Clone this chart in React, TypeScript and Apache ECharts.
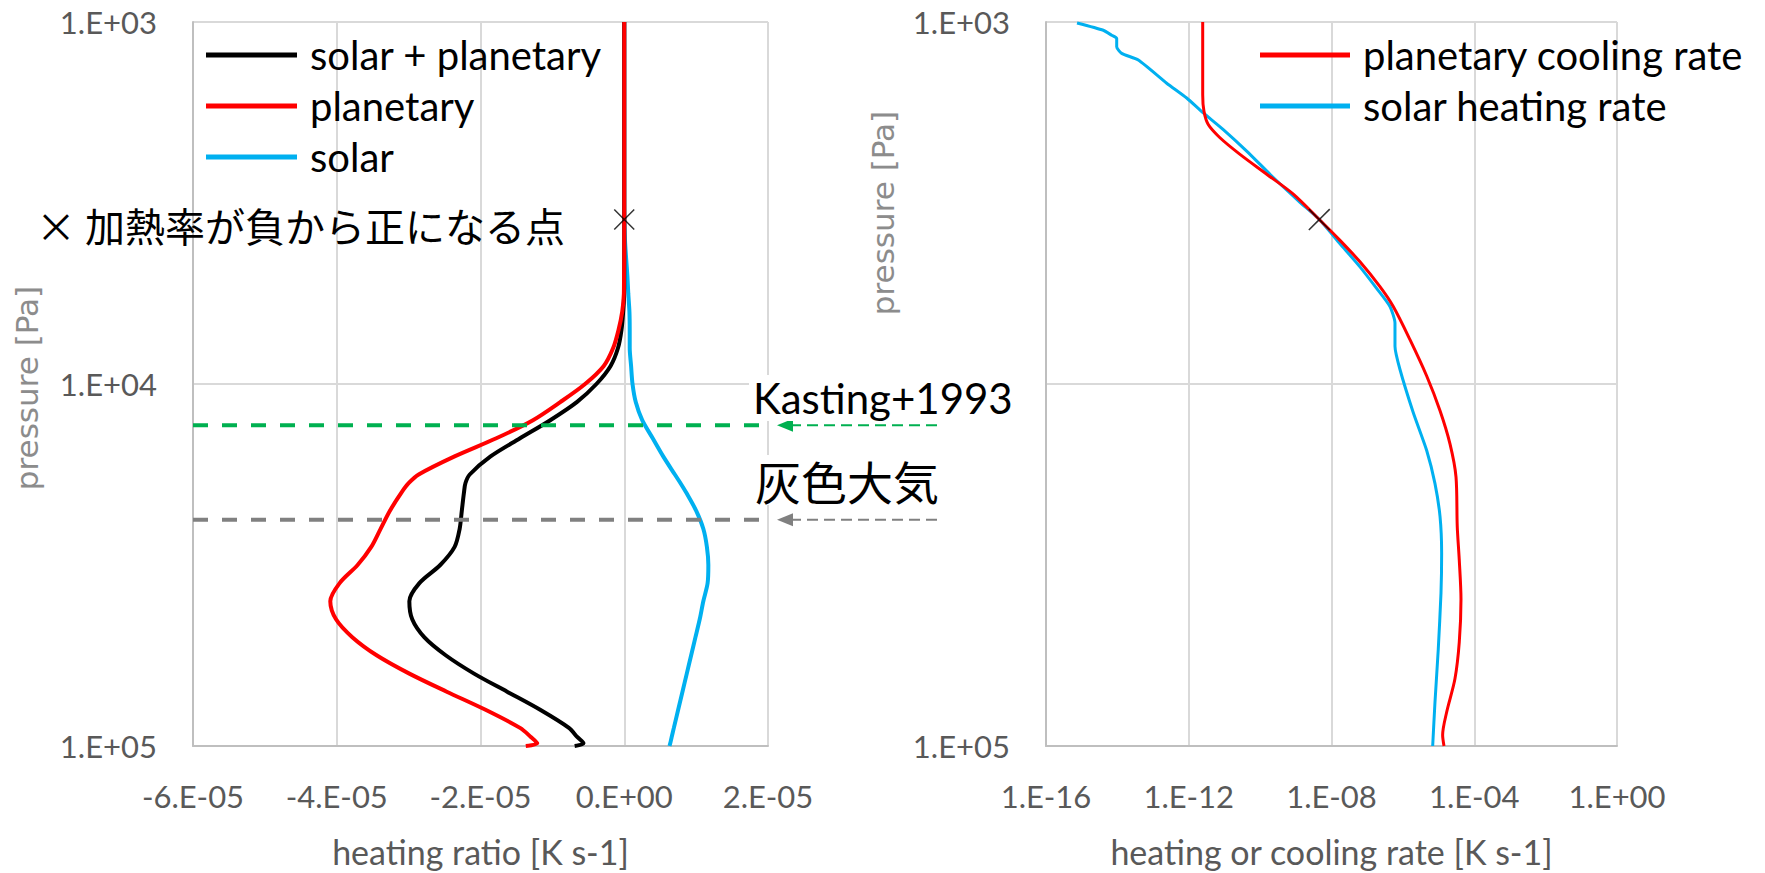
import { useEffect, useRef } from "react";
import * as echarts from "echarts";

// ---------- Left panel: heating ratio [K s-1] vs pressure [Pa] ----------
const pressureLeft = [
  1000, 3162, 3981, 4467, 5012, 5623, 6310, 7079, 7943, 8913, 10000, 11220, 12589,
  14125, 15849, 17783, 18800, 19953, 22387, 25119, 28184, 31623, 35481, 39811, 44668,
  50119, 56234, 63096, 70795, 79433, 89125, 94406, 98300, 100000,
];
const solarPlusPlanetary = [
  0, 0, 0, 0, 0, -1e-8, -1.5e-7, -3.8e-7, -8.6e-7, -1.9e-6, -3.87e-6, -6.6e-6, -1.03e-5,
  -1.45e-5, -1.86e-5, -2.15e-5, -2.21e-5, -2.23e-5, -2.26e-5, -2.29e-5, -2.36e-5, -2.56e-5, -2.85e-5, -2.99e-5, -2.95e-5,
  -2.78e-5, -2.48e-5, -2.09e-5, -1.63e-5, -1.17e-5, -7.7e-6, -6.55e-6, -5.67e-6, -6.9e-6,
];
const planetary = [
  0, 0, 0, 0, -3e-8, -5e-8, -2.8e-7, -7.9e-7, -1.53e-6, -2.85e-6, -5.45e-6, -8.9e-6, -1.27e-5,
  -1.78e-5, -2.36e-5, -2.86e-5, -3.0e-5, -3.1e-5, -3.26e-5, -3.39e-5, -3.52e-5, -3.71e-5, -3.96e-5, -4.09e-5, -4.01e-5,
  -3.78e-5, -3.44e-5, -2.99e-5, -2.47e-5, -1.93e-5, -1.45e-5, -1.3e-5, -1.21e-5, -1.37e-5,
];
const solar = [
  0, 0, 1e-7, 2.5e-7, 4.3e-7, 5.6e-7, 7.2e-7, 7.6e-7, 7.6e-7, 9.5e-7, 1.15e-6, 1.6e-6, 2.5e-6,
  3.96e-6, 5.42e-6, 7.04e-6, 7.83e-6, 8.62e-6, 1.0e-5, 1.1e-5, 1.15e-5, 1.17e-5, 1.16e-5, 1.1e-5, 1.05e-5,
  9.9e-6, 9.3e-6, 8.7e-6, 8.1e-6, 7.5e-6, 6.9e-6, 6.6e-6, 6.4e-6, 6.3e-6,
];
const xLeftTicks = { min: -6e-5, max: 2e-5, interval: 2e-5 };

// ---------- Right panel: heating or cooling rate [K s-1] vs pressure [Pa] ----------
const coolingPressure = [
  1000, 1589, 1765, 1920, 2088, 2321, 2633, 2988, 3513, 4011, 4598, 5384, 6109, 7544, 9506,
  11857, 14640, 18066, 24774, 30571, 39357, 51761, 65223, 80538, 93313, 100000,
];
const coolingRate = [
  2.46e-12, 2.46e-12, 2.67e-12, 3.52e-12, 7.5e-12, 2.73e-11, 1.53e-10, 8.5e-10, 4.55e-9, 1.73e-8, 6.28e-8,
  2.28e-7, 5.38e-7, 1.58e-6, 4.65e-6, 1.1e-5, 2.09e-5, 3.08e-5, 3.34e-5, 3.8e-5, 4.25e-5, 3.8e-5, 2.88e-5,
  1.69e-5, 1.3e-5, 1.42e-5,
];
const heatingPressure = [
  1006, 1054, 1088, 1110, 1171, 1221, 1274, 1476, 1622, 1783, 1982, 2273, 2689, 3148, 3513, 4097, 4746,
  5443, 6109, 6788, 7864, 9119, 11987, 15264, 18848, 23254, 29325, 37752, 53961, 75578, 100000,
];
const heatingRate = [
  7.4e-16, 4.04e-15, 6.93e-15, 9.57e-15, 9.57e-15, 1.32e-14, 3.86e-14, 2.41e-13, 8.75e-13, 2.55e-12,
  9.29e-12, 4.2e-11, 2.34e-10, 1.31e-9, 4.55e-9, 1.73e-8, 6.28e-8, 1.84e-7, 4.35e-7, 6.01e-7, 6.01e-7,
  8.3e-7, 1.95e-6, 4.65e-6, 7.94e-6, 1.1e-5, 1.22e-5, 1.17e-5, 9.82e-6, 7.94e-6, 6.84e-6,
];

// ---------- Annotations ----------
const crossPressure = 3513; // heating rate changes sign
const crossLeft = [[0, crossPressure]];
const crossRight = [[4.55e-9, crossPressure]];
const kastingPressure = 13000;
const greyPressure = 23700;
// the right panel's middle pressure label is hidden behind the "Kasting+1993" text box
const hiddenRightLabels = [10000];

const legendLeft = ["solar + planetary", "planetary", "solar"];
const legendRight = ["planetary cooling rate", "solar heating rate"];

const CROSS_PATH =
  "path://M1,0L10,9L19,0L20,1L11,10L20,19L19,20L10,11L1,20L0,19L9,10L0,1Z";

function sci(v: number): string {
  if (Math.abs(v) < 1e-25) return "0.E+00";
  const e = Math.floor(Math.log10(Math.abs(v)) + 1e-9);
  const m = Math.round(v / Math.pow(10, e));
  return `${m}.E${e < 0 ? "-" : "+"}${String(Math.abs(e)).padStart(2, "0")}`;
}

const LABEL = "#595959";
const GRID = "#d9d9d9";
const AXIS = "#bfbfbf";
const FONT = "Lato";

export default function App() {
  const ref = useRef<HTMLDivElement>(null);
  useEffect(() => {
    if (!ref.current) return;
    const chart = echarts.init(ref.current, undefined, { renderer: "svg" });

    const labelCommon = {
      fontSize: 31,
      color: LABEL,
      fontFamily: FONT,
      formatter: sci,
      showMinLabel: true,
      showMaxLabel: true,
    };
    const xAxisCommon = {
      axisTick: { show: false },
      axisLine: { show: true, onZero: false, lineStyle: { color: AXIS, width: 2 } },
      splitLine: { show: true, lineStyle: { color: GRID, width: 2 } },
      axisLabel: { ...labelCommon, margin: 34 },
      nameLocation: "middle" as const,
      nameGap: 88,
      nameTextStyle: { fontSize: 34, color: LABEL, fontFamily: FONT },
    };
    const yAxisCommon = {
      type: "log" as const,
      logBase: 10,
      min: 1000,
      max: 100000,
      inverse: true,
      axisTick: { show: false },
      axisLine: { show: true, onZero: false, lineStyle: { color: AXIS, width: 2 } },
      splitLine: { show: true, lineStyle: { color: GRID, width: 2 } },
      axisLabel: { ...labelCommon, margin: 36 },
    };
    const legendCommon = {
      orient: "vertical" as const,
      top: 35,
      padding: 0,
      icon: "rect",
      itemHeight: 5,
      itemGap: 11,
      selectedMode: false,
      textStyle: { fontSize: 40, lineHeight: 40, color: "#000", fontFamily: FONT, padding: [0, 0, 0, 8] },
    };

    const option: any = {
      animation: false,
      backgroundColor: "#fff",
      textStyle: { fontFamily: FONT },
      grid: [
        { left: 193, top: 22, width: 575, height: 729 },
        { left: 1046, top: 22, width: 571, height: 729 },
      ],
      xAxis: [
        {
          ...xAxisCommon,
          gridIndex: 0,
          type: "value",
          min: xLeftTicks.min,
          max: xLeftTicks.max,
          interval: xLeftTicks.interval,
          name: "heating ratio [K s-1]",
        },
        {
          ...xAxisCommon,
          gridIndex: 1,
          type: "log",
          logBase: 10000,
          min: 1e-16,
          max: 1,
          name: "heating or cooling rate [K s-1]",
        },
      ],
      yAxis: [
        { ...yAxisCommon, gridIndex: 0 },
        {
          ...yAxisCommon,
          gridIndex: 1,
          axisLabel: {
            ...yAxisCommon.axisLabel,
            formatter: (v: number) =>
              hiddenRightLabels.some((h) => Math.abs(v - h) / h < 1e-6) ? "" : sci(v),
          },
        },
      ],
      legend: [
        { ...legendCommon, left: 206, itemWidth: 91, data: legendLeft },
        { ...legendCommon, left: 1260, itemWidth: 90, data: legendRight },
      ],
      series: [
        {
          name: legendLeft[0],
          type: "line",
          xAxisIndex: 0,
          yAxisIndex: 0,
          data: pressureLeft.map((p, i) => [solarPlusPlanetary[i], p]),
          symbol: "none",
          smooth: 0.3,
          lineStyle: { color: "#000000", width: 4 },
          itemStyle: { color: "#000000" },
          z: 3,
        },
        {
          name: legendLeft[1],
          type: "line",
          xAxisIndex: 0,
          yAxisIndex: 0,
          data: pressureLeft.map((p, i) => [planetary[i], p]),
          symbol: "none",
          smooth: 0.3,
          lineStyle: { color: "#ff0000", width: 4 },
          itemStyle: { color: "#ff0000" },
          z: 4,
        },
        {
          name: legendLeft[2],
          type: "line",
          xAxisIndex: 0,
          yAxisIndex: 0,
          data: pressureLeft.map((p, i) => [solar[i], p]),
          symbol: "none",
          smooth: 0.3,
          lineStyle: { color: "#00b0f0", width: 4 },
          itemStyle: { color: "#00b0f0" },
          z: 2,
        },
        {
          name: "Kasting+1993 level",
          type: "line",
          xAxisIndex: 0,
          yAxisIndex: 0,
          data: [
            [xLeftTicks.min, kastingPressure],
            [xLeftTicks.max, kastingPressure],
          ],
          symbol: "none",
          lineStyle: { color: "#00b050", width: 4, type: [15, 14] },
          z: 6,
          silent: true,
        },
        {
          name: "grey atmosphere level",
          type: "line",
          xAxisIndex: 0,
          yAxisIndex: 0,
          data: [
            [xLeftTicks.min, greyPressure],
            [xLeftTicks.max, greyPressure],
          ],
          symbol: "none",
          lineStyle: { color: "#808080", width: 4, type: [15, 14] },
          z: 6,
          silent: true,
        },
        {
          name: "cross left",
          type: "scatter",
          xAxisIndex: 0,
          yAxisIndex: 0,
          data: crossLeft,
          symbol: CROSS_PATH,
          symbolSize: 21,
          itemStyle: { color: "#000" },
          z: 10,
          silent: true,
        },
        {
          name: legendRight[0],
          type: "line",
          xAxisIndex: 1,
          yAxisIndex: 1,
          data: coolingPressure.map((p, i) => [coolingRate[i], p]),
          symbol: "none",
          smooth: 0.3,
          lineStyle: { color: "#ff0000", width: 3 },
          itemStyle: { color: "#ff0000" },
          z: 4,
        },
        {
          name: legendRight[1],
          type: "line",
          xAxisIndex: 1,
          yAxisIndex: 1,
          data: heatingPressure.map((p, i) => [heatingRate[i], p]),
          symbol: "none",
          smooth: 0.2,
          lineStyle: { color: "#00b0f0", width: 3 },
          itemStyle: { color: "#00b0f0" },
          z: 3,
        },
        {
          name: "cross right",
          type: "scatter",
          xAxisIndex: 1,
          yAxisIndex: 1,
          data: crossRight,
          symbol: CROSS_PATH,
          symbolSize: 22,
          itemStyle: { color: "#000" },
          z: 10,
          silent: true,
        },
      ],
    };
    chart.setOption(option);

    const yK = chart.convertToPixel({ yAxisIndex: 0 }, kastingPressure) as number;
    const yG = chart.convertToPixel({ yAxisIndex: 0 }, greyPressure) as number;
    const xEdge = chart.convertToPixel({ xAxisIndex: 0 }, xLeftTicks.max) as number;

    const arrow = (y: number, color: string, id: string) => [
      {
        id: id + "-line",
        type: "line",
        z: 50,
        shape: { x1: xEdge + 169, y1: y, x2: xEdge + 24, y2: y },
        style: { stroke: color, lineWidth: 2, lineDash: [11, 6] },
        silent: true,
      },
      {
        id: id + "-head",
        type: "polygon",
        z: 50,
        shape: {
          points: [
            [xEdge + 9, y],
            [xEdge + 25, y - 6.5],
            [xEdge + 25, y + 6.5],
          ],
        },
        style: { fill: color },
        silent: true,
      },
    ];

    const yTitle = (id: string, x: number, y: number) => ({
      id,
      type: "text",
      z: 60,
      x,
      y,
      rotation: Math.PI / 2,
      style: {
        text: "pressure [Pa]",
        fontSize: 31,
        fontFamily: "DejaVu Sans",
        fill: "#8c8c8c",
        align: "center",
        verticalAlign: "middle",
      },
      silent: true,
    });

    chart.setOption({
      graphic: [
        ...arrow(yK, "#00b050", "kasting"),
        ...arrow(yG, "#808080", "grey"),
        {
          id: "note-cross",
          type: "text",
          z: 60,
          x: 36,
          y: 225,
          style: {
            text: "× 加熱率が負から正になる点",
            fontSize: 40,
            fontFamily: "Noto Sans CJK JP",
            fill: "#000",
            align: "left",
            verticalAlign: "middle",
          },
          silent: true,
        },
        {
          id: "note-kasting",
          type: "text",
          z: 60,
          x: 749,
          y: 398,
          style: {
            text: "Kasting+1993",
            fontSize: 42,
            fontFamily: FONT,
            fill: "#000",
            align: "left",
            verticalAlign: "middle",
            backgroundColor: "#fff",
            padding: [2, 4, 2, 4],
          },
          silent: true,
        },
        {
          id: "note-grey",
          type: "text",
          z: 60,
          x: 751,
          y: 480,
          style: {
            text: "灰色大気",
            fontSize: 46,
            fontFamily: "Noto Sans CJK JP",
            fill: "#000",
            align: "left",
            verticalAlign: "middle",
            backgroundColor: "#fff",
            padding: [2, 4, 2, 4],
          },
          silent: true,
        },
        yTitle("ytitle-left", 27, 388),
        yTitle("ytitle-right", 883, 213),
      ],
    });

    return () => chart.dispose();
  }, []);

  return (
    <div
      ref={ref}
      style={{ position: "fixed", left: 0, top: 0, width: 1765, height: 873, background: "#fff" }}
    />
  );
}
